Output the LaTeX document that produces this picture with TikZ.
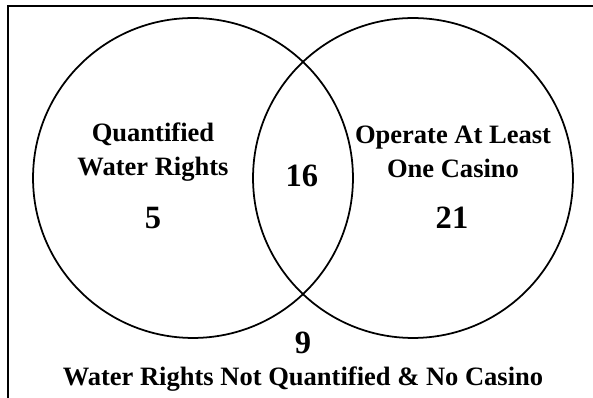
\documentclass[tikz,border=0pt]{standalone}
\usepackage{fontspec}
\setmainfont{Liberation Serif}
\usetikzlibrary{positioning}
\tikzset{
  setcircle/.style={circle, draw=black, line width=1pt, minimum size=6.4cm, inner sep=0},
  setlabel/.style={align=center, font=\bfseries\fontsize{15.1}{19}\selectfont},
  count/.style={font=\bfseries\fontsize{18.5}{20}\selectfont}
}

\begin{document}
\begin{tikzpicture}[x=0.02cm, y=-0.02cm]
\useasboundingbox (0,0) rectangle (593,398);

% frame
\draw[line width=1.5pt] (8,398) -- (8,6) -- (593,6);

% the two sets
\node[setcircle] (water) at (193,178) {};
\node[setcircle] (casino) at (413,178) {};

% labels
\node[setlabel] (waterlbl) at (153,152) {Quantified\\Water Rights};
\node[setlabel] (casinolbl) at (453,152) {Operate At Least\\One Casino};
\node[count] (only water) at (153,218) {5};
\node[count] (both) at (302,176) {16};
\node[count] (only casino) at (452,218) {21};
\node[count] (neither) at (303,343) {9};
\node[setlabel] (neitherlbl) at (303,379) {Water Rights Not Quantified \& No Casino};

\end{tikzpicture}
\end{document}
